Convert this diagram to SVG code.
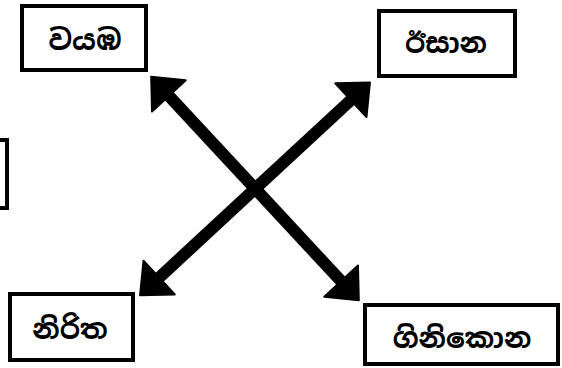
<svg xmlns="http://www.w3.org/2000/svg" width="562" height="368" viewBox="0 0 562 368">
<style>
.box{fill:#fff;stroke:#000;stroke-width:4}
.lbl{font-family:"Noto Sans Sinhala","Iskoola Pota","Noto Sans","DejaVu Sans",sans-serif;font-size:28px;font-weight:bold;fill:#000;text-anchor:middle;dominant-baseline:central}
.arr{stroke:#000;stroke-width:12;fill:none;marker-start:url(#head);marker-end:url(#head)}
</style>
<defs>
<marker id="head" markerUnits="userSpaceOnUse" markerWidth="30" markerHeight="50" viewBox="-2 -2 30 50" refX="1" refY="23" orient="auto-start-reverse">
<path d="M0,0 L26,23 L0,46 Z" fill="#000" stroke="#000" stroke-width="2" stroke-linejoin="round"/>
</marker>
</defs>
<g id="connectors">
<line class="arr" x1="168.2" y1="95.1" x2="341.8" y2="281.9"/>
<line class="arr" x1="158.4" y1="278.3" x2="351.6" y2="99.4"/>
</g>
<g id="node-wayamba">
<rect class="box" x="22" y="6" width="124" height="64"/>
<text class="lbl" x="85" y="40">වයඹ</text>
</g>
<g id="node-isana">
<rect class="box" x="379" y="11" width="136" height="65"/>
<text class="lbl" x="446" y="43">ඊසාන</text>
</g>
<g id="node-left">
<rect class="box" x="-60" y="140" width="67" height="68"/>
</g>
<g id="node-nirita">
<rect class="box" x="10" y="294" width="123" height="66"/>
<text class="lbl" x="70" y="329">නිරිත</text>
</g>
<g id="node-ginikona">
<rect class="box" x="365" y="305" width="193" height="59"/>
<text class="lbl" x="462" y="338">ගිනිකොන</text>
</g>
</svg>
